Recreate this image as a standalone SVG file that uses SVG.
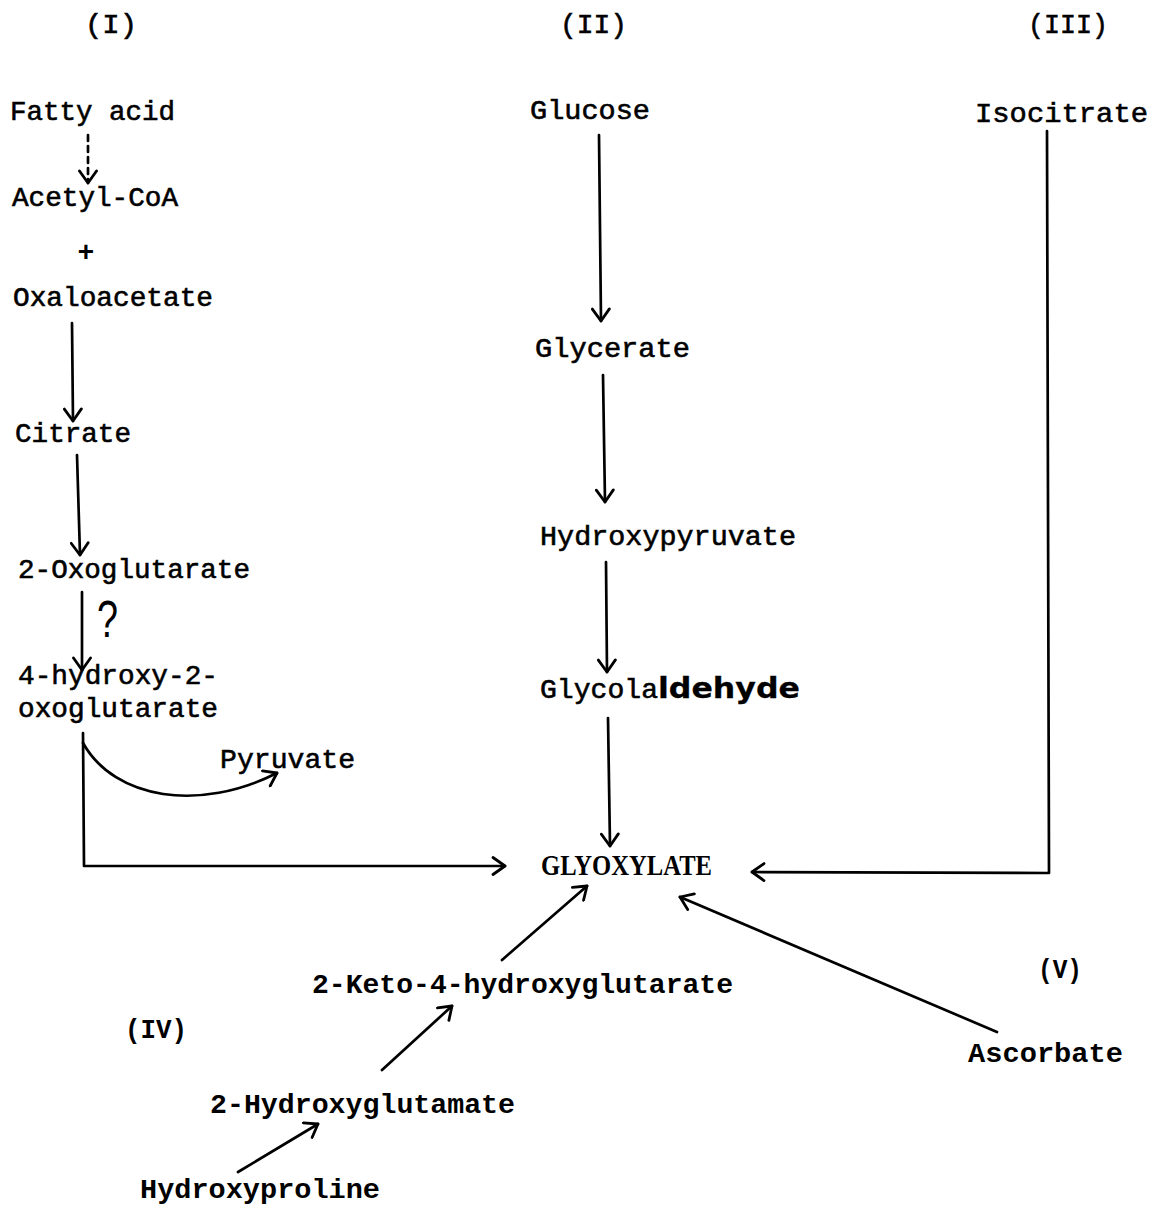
<svg xmlns="http://www.w3.org/2000/svg" width="1159" height="1207" viewBox="0 0 1159 1207">
<defs>
<style>
.t{font-family:"Liberation Mono","DejaVu Sans Mono",monospace;font-size:28px;fill:#000;stroke:#000;stroke-width:0.6}
.b{font-family:"Liberation Mono","DejaVu Sans Mono",monospace;font-size:28px;font-weight:bold;fill:#000}
.g{font-family:"Liberation Serif","DejaVu Serif",serif;font-size:29px;font-weight:bold;fill:#000}
.h{font-family:"DejaVu Sans","Liberation Sans",sans-serif;font-weight:bold;stroke-width:0.3}
.q{font-family:"Liberation Sans","DejaVu Sans",sans-serif;font-size:52px;fill:#000}
.c{fill:none;stroke:#000;stroke-width:2.7;stroke-linecap:round;stroke-linejoin:round}
</style>
<marker id="ah" viewBox="0 0 16 20" markerWidth="16" markerHeight="20" refX="14" refY="10" orient="auto" markerUnits="userSpaceOnUse">
<path d="M2,1.5 L14,10 L2,18.5" fill="none" stroke="#000" stroke-width="2.8" stroke-linecap="round" stroke-linejoin="round"/>
</marker>
</defs>
<rect width="1159" height="1207" fill="#fff"/>

<g id="labels">
<text class="t" x="85" y="33" textLength="52" lengthAdjust="spacingAndGlyphs">(I)</text>
<text class="t" x="560" y="33" textLength="67" lengthAdjust="spacingAndGlyphs">(II)</text>
<text class="t" x="1028" y="33" textLength="80" lengthAdjust="spacingAndGlyphs">(III)</text>
<text class="b" x="125" y="1038" textLength="62" lengthAdjust="spacingAndGlyphs">(IV)</text>
<text class="b" x="1038" y="978" textLength="44" lengthAdjust="spacingAndGlyphs">(V)</text>
</g>

<g id="fatty-acid"><text class="t" x="10" y="120" textLength="165" lengthAdjust="spacingAndGlyphs">Fatty acid</text></g>
<g id="acetyl-coa"><text class="t" x="12" y="206" textLength="166" lengthAdjust="spacingAndGlyphs">Acetyl-CoA</text></g>
<g id="plus"><text class="b" x="86" y="261" text-anchor="middle">+</text></g>
<g id="oxaloacetate"><text class="t" x="13" y="306" textLength="200" lengthAdjust="spacingAndGlyphs">Oxaloacetate</text></g>
<g id="citrate"><text class="t" x="15" y="442" textLength="116" lengthAdjust="spacingAndGlyphs">Citrate</text></g>
<g id="oxoglutarate"><text class="t" x="18" y="578" textLength="232" lengthAdjust="spacingAndGlyphs">2-Oxoglutarate</text></g>
<g id="question"><text class="q" x="97" y="637" textLength="21" lengthAdjust="spacingAndGlyphs">?</text></g>
<g id="hydroxy-oxoglutarate">
<text class="t" x="18" y="684" textLength="200" lengthAdjust="spacingAndGlyphs">4-hydroxy-2-</text>
<text class="t" x="18" y="717" textLength="200" lengthAdjust="spacingAndGlyphs">oxoglutarate</text>
</g>
<g id="pyruvate"><text class="t" x="220" y="768" textLength="135" lengthAdjust="spacingAndGlyphs">Pyruvate</text></g>

<g id="glucose"><text class="t" x="530" y="119" textLength="120" lengthAdjust="spacingAndGlyphs">Glucose</text></g>
<g id="glycerate"><text class="t" x="535" y="357" textLength="155" lengthAdjust="spacingAndGlyphs">Glycerate</text></g>
<g id="hydroxypyruvate"><text class="t" x="540" y="545" textLength="256" lengthAdjust="spacingAndGlyphs">Hydroxypyruvate</text></g>
<g id="glycolaldehyde"><text class="t" x="540" y="698"><tspan textLength="118" lengthAdjust="spacingAndGlyphs">Glycola</tspan><tspan class="h" font-size="29" textLength="142" lengthAdjust="spacingAndGlyphs">ldehyde</tspan></text></g>
<g id="glyoxylate"><text class="g" x="541" y="875" textLength="171" lengthAdjust="spacingAndGlyphs">GLYOXYLATE</text></g>

<g id="isocitrate"><text class="t" x="975" y="122" textLength="173" lengthAdjust="spacingAndGlyphs">Isocitrate</text></g>
<g id="ascorbate"><text class="b" x="968" y="1062" textLength="155" lengthAdjust="spacingAndGlyphs">Ascorbate</text></g>
<g id="keto-hydroxyglutarate"><text class="b" x="312" y="993" textLength="421" lengthAdjust="spacingAndGlyphs">2-Keto-4-hydroxyglutarate</text></g>
<g id="hydroxyglutamate"><text class="b" x="210" y="1113" textLength="305" lengthAdjust="spacingAndGlyphs">2-Hydroxyglutamate</text></g>
<g id="hydroxyproline"><text class="b" x="140" y="1198" textLength="240" lengthAdjust="spacingAndGlyphs">Hydroxyproline</text></g>

<g id="connectors">
<path class="c" d="M88,135 L88,183" stroke-dasharray="6,5" marker-end="url(#ah)"/>
<path class="c" d="M72,323 L73,421" marker-end="url(#ah)"/>
<path class="c" d="M77,455 L80,555" marker-end="url(#ah)"/>
<path class="c" d="M82,592 L82,670" marker-end="url(#ah)"/>
<path class="c" d="M83,733 L84,866 L505,866" marker-end="url(#ah)"/>
<path class="c" d="M83,743 C115,800 200,812 277,773" marker-end="url(#ah)"/>
<path class="c" d="M599,135 L601,321" marker-end="url(#ah)"/>
<path class="c" d="M603,375 L605,502" marker-end="url(#ah)"/>
<path class="c" d="M606,562 L607,672" marker-end="url(#ah)"/>
<path class="c" d="M608,718 L610,846" marker-end="url(#ah)"/>
<path class="c" d="M1047,131 L1049,873 L752,872" marker-end="url(#ah)"/>
<path class="c" d="M997,1032 L680,897" marker-end="url(#ah)"/>
<path class="c" d="M502,960 L587,886" marker-end="url(#ah)"/>
<path class="c" d="M382,1070 L452,1006" marker-end="url(#ah)"/>
<path class="c" d="M238,1172 L318,1124" marker-end="url(#ah)"/>
</g>
</svg>
